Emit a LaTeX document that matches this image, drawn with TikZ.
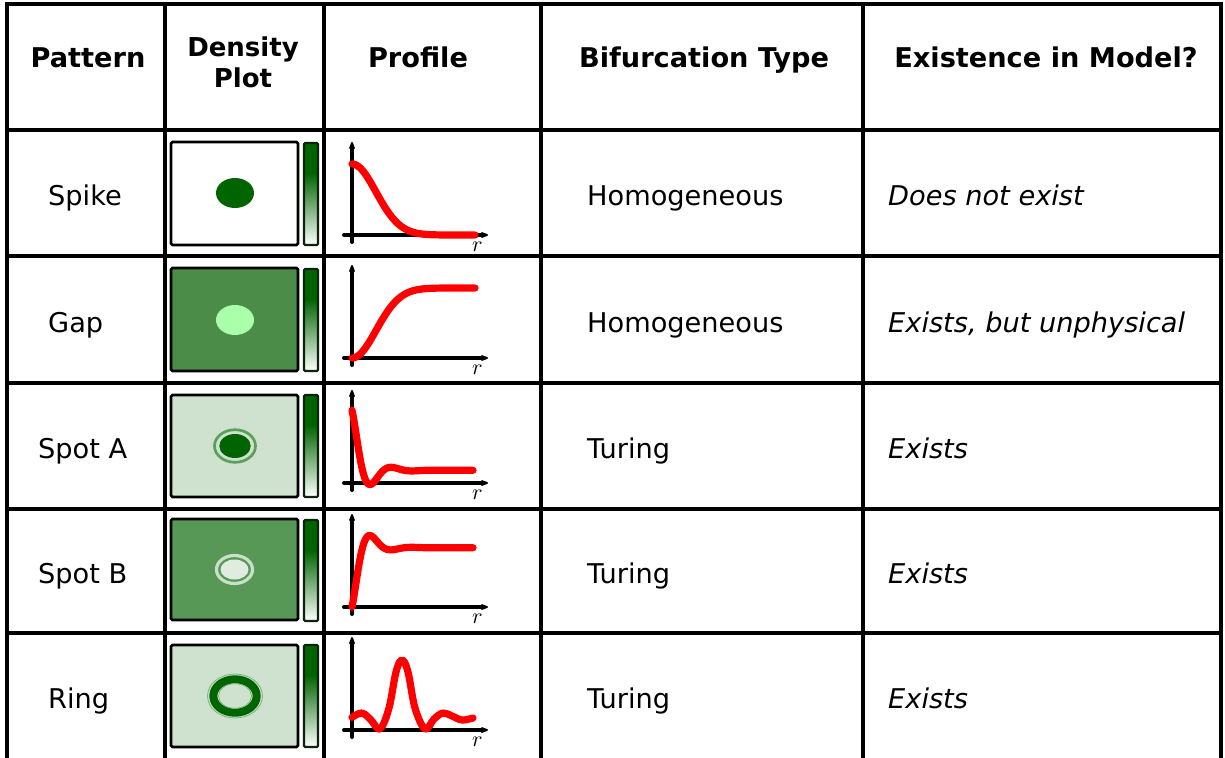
\documentclass[tikz,border=0pt]{standalone}
\usepackage{fontspec}
\setmainfont{DejaVu Sans}
\usetikzlibrary{arrows.meta}
\definecolor{dg}{RGB}{0,100,0}
\definecolor{gapbg}{RGB}{74,140,72}
\definecolor{gapspot}{RGB}{170,255,170}
\definecolor{spbbg}{RGB}{88,152,86}
\definecolor{lightbg}{RGB}{207,226,207}
\definecolor{ringA}{RGB}{90,160,90}
\definecolor{ringB}{RGB}{200,224,200}
\definecolor{spotB}{RGB}{225,236,225}
\definecolor{halo}{RGB}{120,180,120}
\definecolor{cbord}{RGB}{10,35,10}
\definecolor{pred}{RGB}{255,0,0}
\newcommand\mycbar[2]{%
  \fill[dg] (304,#1) rectangle (318,{#1+30});
  \shade[top color=dg, bottom color=white] (304,{#1+30}) rectangle (318,#2);
  \draw[cbox] (304,#1) rectangle (318,#2);}
\newcommand\myaxes[1]{%
  \begin{scope}[shift={(352,#1)}, yscale=-1]
    \draw[axisline] (0,-7) -- (0,93);
    \draw[axisline] (-8,0) -- (136,0);
    \node[rlab] at (125.5,-11.5) {$r$};
  \end{scope}}
\begin{document}
\begin{tikzpicture}[x=1pt,y=-1pt,
  grid/.style={line width=3.6pt, line cap=rect},
  dbox/.style={draw=black, line width=2.6pt, rounded corners=1.5pt},
  cbox/.style={draw=cbord, line width=2.2pt, rounded corners=1.2pt},
  axisline/.style={line width=4pt, line cap=round, -{Stealth[length=11pt,width=8pt,round]}},
  prof/.style={draw=pred, line width=7.2pt, line cap=round, line join=round},
  rlab/.style={inner sep=0pt, scale=2.2},
  head/.style={inner sep=0pt, anchor=base, font=\fontsize{27.2}{31}\selectfont\bfseries},
  txt/.style={inner sep=0pt, anchor=base west, font=\fontsize{27.2}{31}\selectfont},
  itx/.style={txt, font=\fontsize{27.2}{31}\selectfont\itshape}]
\useasboundingbox (0,0) rectangle (1225,757);
\fill[white] (0,0) rectangle (1225,757);

% ---------- headers ----------
\node[head] (hpat) at (88,68) {Pattern};
\node[inner sep=0pt, align=center, font=\fontsize{26}{31}\selectfont\bfseries] (hden) at (243,62) {Density\\Plot};
\node[head] (hpro) at (418,68) {Profile};
\node[head] (hbif) at (704,68) {Bifurcation Type};
\node[head] (hexi) at (1046,68) {Existence in Model?};

% ---------- column 1 ----------
\node[txt] (p1) at (48,205) {Spike};
\node[txt] (p2) at (48,332) {Gap};
\node[txt] (p3) at (38,458) {Spot A};
\node[txt] (p4) at (38,583) {Spot B};
\node[txt] (p5) at (48,708) {Ring};

% ---------- column 4 ----------
\node[txt] (b1) at (587,205) {Homogeneous};
\node[txt] (b2) at (587,332) {Homogeneous};
\node[txt] (b3) at (587,458) {Turing};
\node[txt] (b4) at (587,583) {Turing};
\node[txt] (b5) at (587,708) {Turing};

% ---------- column 5 ----------
\node[itx] (e1) at (888,205) {Does not exist};
\node[itx] (e2) at (888,332) {Exists, but unphysical};
\node[itx] (e3) at (888,458) {Exists};
\node[itx] (e4) at (888,583) {Exists};
\node[itx] (e5) at (888,708) {Exists};

% ---------- density plots ----------
% Spike
\fill[white] (171,142) rectangle (298,245);
\fill[dg] (235,193) ellipse [x radius=19pt, y radius=15pt];
\draw[dbox] (171,142) rectangle (298,245);
\mycbar{143}{245}
% Gap
\fill[gapbg] (171,268) rectangle (298,371);
\fill[gapspot] (235,320) ellipse [x radius=19pt, y radius=15pt];
\draw[dbox] (171,268) rectangle (298,371);
\mycbar{269}{371}
% Spot A
\fill[lightbg] (171,395) rectangle (298,497);
\draw[ringA, line width=2.7pt] (235,446) ellipse [x radius=20.5pt, y radius=16.3pt];
\fill[dg] (235,446) ellipse [x radius=15.7pt, y radius=12pt];
\draw[dbox] (171,395) rectangle (298,497);
\mycbar{395}{497}
% Spot B
\fill[spbbg] (171,519) rectangle (298,620);
\draw[ringB, line width=3.2pt] (234.5,569.5) ellipse [x radius=18pt, y radius=14pt];
\fill[spotB] (234.5,569.5) ellipse [x radius=14pt, y radius=10pt];
\draw[dbox] (171,519) rectangle (298,620);
\mycbar{520}{621}
% Ring
\fill[lightbg] (171,645) rectangle (298,747);
\draw[halo, line width=0.8pt] (235,696) ellipse [x radius=27.5pt, y radius=22pt];
\draw[dg, line width=8pt] (235,696) ellipse [x radius=21.7pt, y radius=16.7pt];
\draw[halo, line width=0.8pt] (235,696) ellipse [x radius=16.5pt, y radius=12.3pt];
\draw[dbox] (171,645) rectangle (298,747);
\mycbar{645}{747}

% ---------- profiles ----------
\myaxes{235}
\begin{scope}[shift={(352,235)}, yscale=-1]
  \draw[prof] plot[domain=0:123, samples=80, smooth] (\x,{71*exp(-0.5*(\x/24)^2)});
\end{scope}
\myaxes{358}
\begin{scope}[shift={(352,358)}, yscale=-1]
  \draw[prof] plot[domain=0:123, samples=80, smooth] (\x,{70*(1-exp(-0.5*(\x/24)^2))});
\end{scope}
\myaxes{483}
\begin{scope}[shift={(352,483)}, yscale=-1]
  \draw[prof] plot[domain=0:121, samples=120, smooth] (\x,{12.7+60*exp(-0.074*\x)*cos(\x/21*180)});
\end{scope}
\myaxes{607}
\begin{scope}[shift={(352,607)}, yscale=-1]
  \draw[prof] plot[domain=0:121, samples=120, smooth] (\x,{59.3-59.3*exp(-0.082*\x)*cos(\x/21*180)});
\end{scope}
\myaxes{730}
\begin{scope}[shift={(352,730)}, yscale=-1]
  \draw[prof] plot[smooth, tension=0.6] coordinates {(0,12.7) (10,17) (19,10) (28,1) (37,22) (44,58) (50,70) (56,58) (63,22) (73,1) (82,11) (91,17) (100,14) (110,10) (121,12)};
\end{scope}

% ---------- table grid ----------
\foreach \xx in {7,165,324,541,863,1221}
  \draw[grid] (\xx,4) -- (\xx,762);
\foreach \yy in {4,130,256,383,509,633}
  \draw[grid] (7,\yy) -- (1221,\yy);
\end{tikzpicture}
\end{document}
